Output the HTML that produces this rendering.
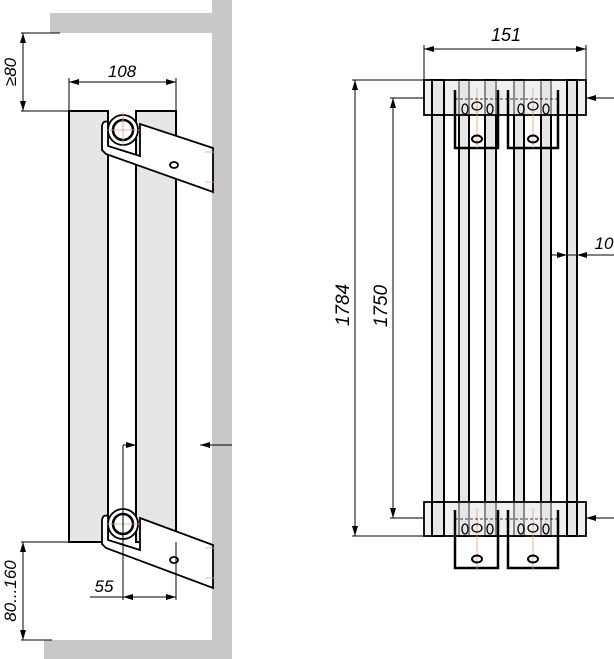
<!DOCTYPE html>
<html><head><style>html,body{margin:0;padding:0;background:#fff}svg{display:block}</style></head><body>
<svg width="614" height="659" viewBox="0 0 614 659" xmlns="http://www.w3.org/2000/svg" font-family="Liberation Sans, sans-serif" font-style="italic">
<defs>
<marker id="a" viewBox="0 0 10 6" refX="10" refY="3" markerWidth="10" markerHeight="6" orient="auto-start-reverse" markerUnits="userSpaceOnUse"><path d="M0,0 L10,3 L0,6z" fill="#000"/></marker>
</defs>
<rect x="50" y="13" width="182" height="20" fill="#c8c8c8"/>
<rect x="212" y="0" width="20" height="659" fill="#c8c8c8"/>
<rect x="44" y="640" width="188" height="19" fill="#c8c8c8"/>
<g stroke="#000" stroke-width="2" fill="#e6e6e6">
<rect x="69" y="111" width="39" height="431"/>
<rect x="136" y="111" width="40" height="431"/>
</g>
<g stroke="#000" stroke-width="1.8" fill="#fff">
<path d="M140,124 L213,148 L213,192 L106,154 L102,150 L102,126 Q103,120 108,122 L108,146 L140,156z"/>
<circle cx="123" cy="130" r="15"/>
<circle cx="123" cy="130" r="10" stroke-width="2.5"/>
<ellipse cx="174" cy="165" rx="4" ry="3"/>
</g>
<g stroke="#e0a080" stroke-width="0.8"><line x1="123" y1="112" x2="123" y2="146"/><line x1="106" y1="130" x2="140" y2="130"/><line x1="205" y1="152" x2="217" y2="152"/><line x1="205" y1="182" x2="217" y2="182"/></g>
<g stroke="#000" stroke-width="1.8" fill="#fff">
<path d="M140,518 L213,545 L213,588 L106,548 L102,544 L102,520 Q103,514 108,516 L108,540 L140,550z"/>
<circle cx="123" cy="524" r="15"/>
<circle cx="123" cy="524" r="10" stroke-width="2.5"/>
<ellipse cx="174" cy="560" rx="4" ry="3"/>
</g>
<g stroke="#e0a080" stroke-width="0.8"><line x1="123" y1="508" x2="123" y2="540"/><line x1="106" y1="524" x2="140" y2="524"/><line x1="205" y1="548" x2="217" y2="548"/><line x1="205" y1="578" x2="217" y2="578"/></g>
<g stroke="#000" stroke-width="1" fill="none">
<line x1="69" y1="111" x2="69" y2="78"/><line x1="176" y1="111" x2="176" y2="78"/>
<line x1="69" y1="82" x2="176" y2="82" marker-start="url(#a)" marker-end="url(#a)"/>
<line x1="21" y1="33" x2="60" y2="33"/><line x1="21" y1="111" x2="69" y2="111"/>
<line x1="23" y1="33" x2="23" y2="111" marker-start="url(#a)" marker-end="url(#a)"/>
<line x1="21" y1="542" x2="69" y2="542"/><line x1="21" y1="640" x2="52" y2="640"/>
<line x1="23" y1="542" x2="23" y2="640" marker-start="url(#a)" marker-end="url(#a)"/>
<line x1="123" y1="445" x2="123" y2="600"/><line x1="176" y1="542" x2="176" y2="600"/>
<line x1="123" y1="597" x2="176" y2="597" marker-start="url(#a)" marker-end="url(#a)"/>
<line x1="90" y1="597" x2="123" y2="597"/>
<line x1="123" y1="445" x2="136" y2="445" marker-end="url(#a)"/>
<line x1="200" y1="445" x2="232" y2="445"/>
<line x1="200" y1="445" x2="212" y2="445" marker-start="url(#a)"/>
</g>
<text x="122" y="77" font-size="17" text-anchor="middle">108</text>
<text x="104" y="592" font-size="17" text-anchor="middle">55</text>
<text transform="translate(16,72) rotate(-90)" font-size="17" text-anchor="middle">≥80</text>
<text transform="translate(16,591) rotate(-90)" font-size="17" text-anchor="middle">80...160</text>
<g stroke="#000" stroke-width="2" fill="#e6e6e6">
<rect x="432" y="80" width="12" height="456"/>
<rect x="459" y="80" width="10" height="456"/>
<rect x="485" y="80" width="11" height="456"/>
<rect x="514" y="80" width="10" height="456"/>
<rect x="541" y="80" width="10" height="456"/>
<rect x="567" y="80" width="10" height="456"/>
</g>
<g stroke="#000" stroke-width="1.8" fill="none">
<rect x="424" y="80" width="162" height="35" fill="#e6e6e6" fill-opacity="0.6"/>
<rect x="424" y="502" width="162" height="34" fill="#e6e6e6" fill-opacity="0.6"/>
</g>
<g stroke="#000" stroke-width="2" fill="#e6e6e6">
<rect x="432" y="80" width="12" height="35"/><rect x="567" y="80" width="10" height="35"/>
<rect x="432" y="502" width="12" height="34"/><rect x="567" y="502" width="10" height="34"/>
</g>
<g stroke="#000" stroke-width="2.5" fill="none">
<path d="M455,90 L455,148 L498,148 L498,90"/>
<path d="M508,90 L508,148 L558,148 L558,90"/>
<path d="M455,510 L455,568 L498,568 L498,510"/>
<path d="M508,510 L508,568 L558,568 L558,510"/>
</g>
<g stroke="#e0a080" stroke-width="0.8"><line x1="477" y1="88" x2="477" y2="148"/><line x1="533" y1="88" x2="533" y2="148"/><line x1="477" y1="508" x2="477" y2="570"/><line x1="533" y1="508" x2="533" y2="570"/></g>
<g stroke="#000" stroke-width="1.3" fill="none">
<ellipse cx="465" cy="109" rx="3" ry="5"/><ellipse cx="477" cy="106" rx="5" ry="4"/><ellipse cx="490" cy="109" rx="3" ry="5"/>
<ellipse cx="521" cy="109" rx="3" ry="5"/><ellipse cx="533" cy="106" rx="5" ry="4"/><ellipse cx="546" cy="109" rx="3" ry="5"/>
<ellipse cx="477" cy="139" rx="5" ry="3.5" stroke-width="2"/><ellipse cx="533" cy="139" rx="5" ry="3.5" stroke-width="2"/>
<ellipse cx="465" cy="529" rx="3" ry="5"/><ellipse cx="477" cy="528" rx="5" ry="4"/><ellipse cx="490" cy="529" rx="3" ry="5"/>
<ellipse cx="521" cy="529" rx="3" ry="5"/><ellipse cx="533" cy="528" rx="5" ry="4"/><ellipse cx="546" cy="529" rx="3" ry="5"/>
<ellipse cx="477" cy="559" rx="5" ry="3.5" stroke-width="2"/><ellipse cx="533" cy="559" rx="5" ry="3.5" stroke-width="2"/>
<line x1="455" y1="99" x2="558" y2="99" stroke-dasharray="3,2" stroke-width="0.8"/>
<line x1="455" y1="519" x2="558" y2="519" stroke-dasharray="3,2" stroke-width="0.8"/>
</g>
<g stroke="#000" stroke-width="1" fill="none">
<line x1="424" y1="80" x2="424" y2="45"/><line x1="586" y1="80" x2="586" y2="45"/>
<line x1="424" y1="49" x2="586" y2="49" marker-start="url(#a)" marker-end="url(#a)"/>
<line x1="352" y1="80" x2="424" y2="80"/><line x1="352" y1="536" x2="424" y2="536"/>
<line x1="355" y1="80" x2="355" y2="536" marker-start="url(#a)" marker-end="url(#a)"/>
<line x1="390" y1="98" x2="424" y2="98"/><line x1="390" y1="518" x2="424" y2="518"/>
<line x1="393" y1="98" x2="393" y2="518" marker-start="url(#a)" marker-end="url(#a)"/>
<line x1="614" y1="98" x2="586" y2="98" marker-end="url(#a)"/>
<line x1="614" y1="518" x2="586" y2="518" marker-end="url(#a)"/>
<line x1="551" y1="255" x2="614" y2="255"/>
<line x1="552" y1="255" x2="567" y2="255" marker-end="url(#a)"/>
<line x1="577" y1="255" x2="592" y2="255" marker-start="url(#a)"/>
</g>
<text x="506" y="41" font-size="18" text-anchor="middle">151</text>
<text x="604" y="249" font-size="17" text-anchor="middle">10</text>
<text transform="translate(349,305) rotate(-90)" font-size="19" text-anchor="middle">1784</text>
<text transform="translate(387,306) rotate(-90)" font-size="19" text-anchor="middle">1750</text>
</svg>
</body></html>
